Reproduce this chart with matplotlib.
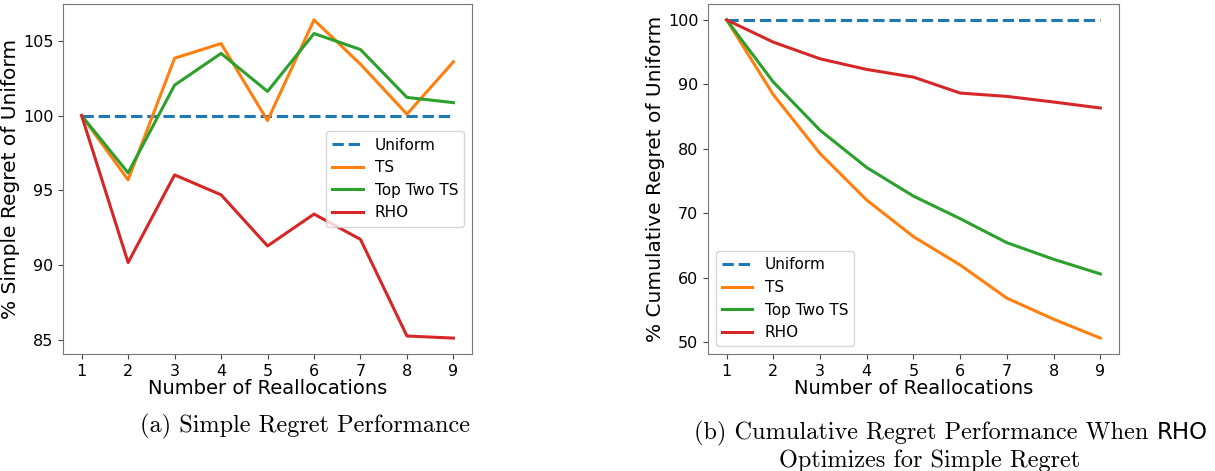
import matplotlib.pyplot as plt

reallocations = [1, 2, 3, 4, 5, 6, 7, 8, 9]

# % simple regret of uniform
simple_uniform = [100, 100, 100, 100, 100, 100, 100, 100, 100]
simple_ts = [100, 95.71, 103.84, 104.82, 99.67, 106.4, 103.44, 100.1, 103.6]
simple_toptwo = [100, 96.18, 102.04, 104.16, 101.62, 105.49, 104.42, 101.22, 100.87]
simple_rho = [100, 90.18, 96.04, 94.71, 91.29, 93.42, 91.73, 85.27, 85.13]

# % cumulative regret of uniform
cum_uniform = [100, 100, 100, 100, 100, 100, 100, 100, 100]
cum_ts = [100, 88.4, 79.28, 72.06, 66.39, 62.0, 56.86, 53.6, 50.67]
cum_toptwo = [100, 90.36, 82.89, 77.11, 72.68, 69.18, 65.46, 62.89, 60.62]
cum_rho = [100, 96.55, 93.97, 92.32, 91.13, 88.66, 88.14, 87.27, 86.34]

fig = plt.figure(figsize=(12.15, 4.71), dpi=100)
ax1 = fig.add_axes([0.0519, 0.2484, 0.3366, 0.7431])
ax2 = fig.add_axes([0.5827, 0.2484, 0.3383, 0.7431])


def draw(ax, uni, ts, toptwo, rho, ylabel, loc):
    ax.plot(reallocations, uni, '--', color='tab:blue', lw=2.2, label='Uniform')
    ax.plot(reallocations, ts, color='tab:orange', lw=2.2, label='TS')
    ax.plot(reallocations, toptwo, color='tab:green', lw=2.2, label='Top Two TS')
    ax.plot(reallocations, rho, color='tab:red', lw=2.2, label='RHO')
    ax.set_xticks(reallocations)
    ax.tick_params(labelsize=11.5, color='#444444')
    ax.set_xlabel('Number of Reallocations', fontsize=14, labelpad=0)
    ax.set_ylabel(ylabel, fontsize=14.5, labelpad=2)
    for s in ax.spines.values():
        s.set_color('#777777')
    ax.legend(loc=loc, fontsize=11)


draw(ax1, simple_uniform, simple_ts, simple_toptwo, simple_rho,
     '% Simple Regret of Uniform', 'center right')
draw(ax2, cum_uniform, cum_ts, cum_toptwo, cum_rho,
     '% Cumulative Regret of Uniform', 'lower left')

# captions
fig.text(0.2514, 0.095, '(a) Simple Regret Performance', family='cmr10',
         fontsize=17.5, ha='center', va='center')
cap_b = fig.text(0.5712, 0.068, '(b) Cumulative Regret Performance When ',
                 family='cmr10', fontsize=17.5, ha='left', va='baseline')
fig.canvas.draw()
bb = cap_b.get_window_extent().transformed(fig.transFigure.inverted())
fig.text(bb.x1, 0.068, 'RHO', fontsize=16.5, ha='left', va='baseline')
fig.text(0.7654, 0.022, 'Optimizes for Simple Regret', family='cmr10',
         fontsize=17.5, ha='center', va='center')

fig.savefig('out.png', dpi=100)
